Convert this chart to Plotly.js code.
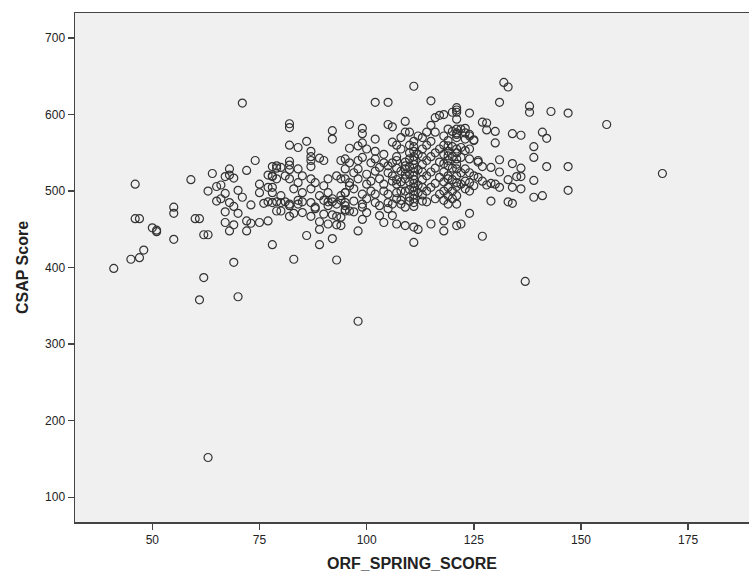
<!DOCTYPE html>
<html>
<head>
<meta charset="utf-8">
<script src="https://cdn.plot.ly/plotly-3.0.1.min.js"></script>
<style>html,body{margin:0;padding:0;background:#fff;}#chart{width:749px;height:581px;}</style>
</head>
<body>
<div id="chart"></div>
<script>
// ORF_SPRING_SCORE values (x) and CSAP Score values (y)
const orfScore = [
41,45,47,48,46,46,47,50,51,51,55,55,55,59,60,61,61,71,74,64,68,72,67,68,69,63,65,66,67,70,75,77,78,79,79,75,77,78,71,65,66,68,73,76,78,79,69,79,67,70,67,69,68,72,73,75,77,72,62,63,78,69,62,70,63,
82,82,92,92,96,96,82,84,86,87,87,87,87,89,90,94,82,82,82,78,80,84,
78,79,81,82,84,85,87,88,90,91,93,94,96,78,80,83,85,87,89,91,92,94,95,80,82,84,87,88,91,93,95,
77,81,82,84,85,90,91,92,94,95,80,82,83,85,87,88,90,92,93,93,91,89,89,86,89,92,83,93,
102,105,105,106,109,99,99,106,102,109,98,99,100,102,104,106,109,109,
95,96,98,99,101,102,104,105,107,109,95,97,98,100,102,103,105,106,108,109,95,96,98,100,101,103,104,106,107,109,95,97,99,101,102,104,105,107,109,95,97,99,100,102,103,105,108,110,
98,98,95,96,97,99,100,99,103,104,106,107,105,106,109,109,94,94,
111,115,116,117,118,120,121,115,110,112,114,116,121,121,
111,111,111,111,111,111,111,111,111,111,111,111,111,111,111,111,111,
110,110,110,110,110,110,110,110,
113,113,113,113,113,113,113,113,113,
112,112,112,112,114,114,114,114,114,115,115,115,115,116,116,116,116,117,117,117,117,
118,118,118,118,118,118,118,118,119,119,119,119,119,119,
120,120,120,120,120,120,120,121,121,121,121,121,
108,108,108,108,108,107,107,107,107,107,
111,112,115,118,118,121,111,119,
132,133,131,138,138,121,121,121,124,127,128,128,130,130,134,136,139,139,123,124,125,123,131,131,129,126,127,134,136,135,136,133,134,136,139,139,129,130,131,128,129,133,134,124,122,127,137,121,121,
119,121,122,123,124,125,119,121,122,123,124,119,121,122,124,126,119,121,122,123,124,125,126,119,121,122,123,124,125,123,124,127,
143,147,156,141,142,142,147,169,141,147
];
const csapScore = [
399,411,413,423,509,464,464,452,449,447,479,471,437,515,464,464,358,615,540,523,529,527,519,521,517,500,506,508,497,501,509,521,519,533,530,498,505,505,492,487,490,485,482,484,485,486,480,474,473,471,459,456,448,461,458,459,461,448,443,443,430,407,387,362,152,
588,583,579,568,587,556,560,557,565,552,545,540,532,543,540,540,539,534,528,532,531,529,
520,516,520,516,511,520,516,511,507,516,520,516,507,498,494,503,498,503,494,498,490,494,498,485,481,483,485,479,481,483,481,
486,486,483,488,486,488,486,486,488,476,474,467,471,472,467,477,470,469,467,456,457,460,450,442,430,438,411,410,
616,616,587,584,591,582,575,564,568,577,559,563,555,552,548,537,538,529,
542,537,540,544,537,542,537,533,540,533,529,524,529,522,526,531,524,520,526,522,516,511,516,509,513,516,509,513,509,516,498,503,496,500,496,500,496,498,500,485,487,483,490,485,481,485,483,487,
448,330,474,474,473,479,472,463,468,459,468,457,477,483,479,455,466,455,
637,618,596,599,600,603,606,586,577,572,577,577,581,574,
565,558,552,545,540,535,530,525,520,515,510,505,500,495,490,485,480,
560,550,542,532,522,512,502,492,
570,555,545,535,525,515,505,495,487,
548,528,508,498,560,540,520,500,486,565,545,525,505,550,530,510,490,555,538,518,496,
572,560,548,536,525,512,500,488,566,552,540,520,505,494,
578,558,545,530,515,500,490,570,550,535,520,506,
570,555,512,500,488,560,545,530,515,490,
453,450,457,461,448,455,433,483,
642,636,616,611,603,609,603,594,602,590,589,580,578,563,575,573,558,544,582,574,567,568,541,525,531,538,532,536,530,519,519,515,505,503,514,492,510,509,505,508,487,486,484,471,457,441,382,494,483,
581,576,581,576,572,566,559,555,557,553,555,546,542,544,542,540,533,529,524,529,524,520,518,516,511,509,513,511,507,503,500,513,
604,602,587,577,569,532,532,523,494,501
];
const xTickVals = [50, 75, 100, 125, 150, 175];
const yTickVals = [100, 200, 300, 400, 500, 600, 700];
const xTitle = 'ORF_SPRING_SCORE';
const yTitle = 'CSAP Score';

const font = 'Liberation Sans, Arial, sans-serif';
const data = [{
  type: 'scatter',
  mode: 'markers',
  x: orfScore,
  y: csapScore,
  marker: {symbol: 'circle-open', size: 8, color: '#333333', line: {width: 1.2, color: '#333333'}},
  hoverinfo: 'x+y'
}];
const layout = {
  width: 749, height: 581,
  margin: {l: 75, r: 0, t: 13, b: 59, pad: 0},
  paper_bgcolor: '#ffffff',
  plot_bgcolor: '#f0f0f0',
  showlegend: false,
  font: {family: font, size: 12, color: '#222'},
  xaxis: {
    range: [31.96, 189.2],
    tickvals: xTickVals,
    ticktext: xTickVals.map(String),
    showgrid: false, zeroline: false,
    showline: true, mirror: true, linecolor: '#444', linewidth: 1.5,
    ticks: 'outside', ticklen: 6, tickwidth: 1.5, tickcolor: '#444',
    tickfont: {family: font, size: 12, color: '#222'},
    title: {text: xTitle, font: {family: font, size: 16, color: '#222', weight: 'bold'}, standoff: 12}
  },
  yaxis: {
    range: [67.7, 732.7],
    tickvals: yTickVals,
    ticktext: yTickVals.map(String),
    showgrid: false, zeroline: false,
    showline: true, mirror: false, linecolor: '#444', linewidth: 1.5,
    ticks: 'outside', ticklen: 6, tickwidth: 1.5, tickcolor: '#444',
    tickfont: {family: font, size: 12, color: '#222'},
    title: {text: yTitle, font: {family: font, size: 16, color: '#222', weight: 'bold'}, standoff: 12}
  }
};
Plotly.newPlot('chart', data, layout, {displayModeBar: false, staticPlot: true});
</script>
</body>
</html>
